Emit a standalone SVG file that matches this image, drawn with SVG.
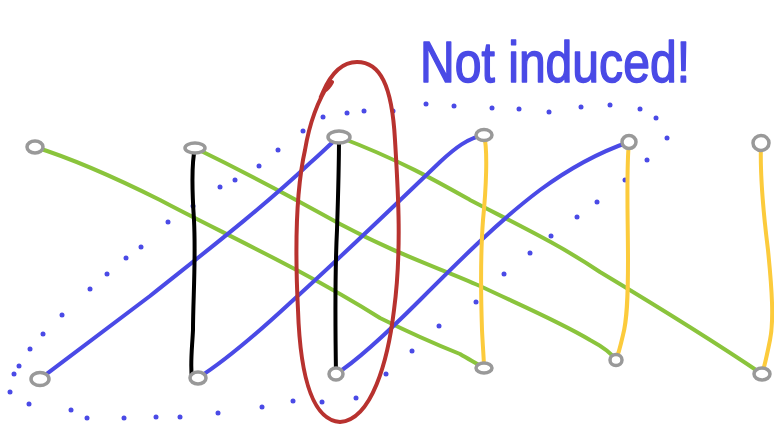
<svg xmlns="http://www.w3.org/2000/svg" width="774" height="425" viewBox="0 0 774 425">
<style>
.e{fill:none;stroke-width:4;stroke-linecap:round;stroke-linejoin:round}
.g{stroke:#8ac43c}
.b{stroke:#4a4ae6}
.k{stroke:#000}
.y{stroke:#fccb3c}
.n{fill:#fff;stroke:#999;stroke-width:3.5}
.d{fill:#4a4ae6}
.t{font-family:"Liberation Sans",Arial,sans-serif;font-size:58px;fill:#4a4ae6;stroke:#4a4ae6;stroke-width:1.5;stroke-linejoin:round}
</style>
<rect width="774" height="425" fill="#fff"/>
<g id="dots">
<circle class="d" cx="278" cy="150" r="2.5"/><circle class="d" cx="303" cy="131" r="2.5"/><circle class="d" cx="323" cy="117" r="2.5"/><circle class="d" cx="347" cy="113" r="2.5"/><circle class="d" cx="364" cy="111" r="2.5"/><circle class="d" cx="393" cy="111" r="2.5"/><circle class="d" cx="426" cy="104" r="2.5"/><circle class="d" cx="454" cy="106" r="2.5"/><circle class="d" cx="492" cy="108" r="2.5"/><circle class="d" cx="519" cy="109" r="2.5"/><circle class="d" cx="549" cy="112" r="2.5"/><circle class="d" cx="581" cy="107" r="2.5"/><circle class="d" cx="610" cy="105" r="2.5"/><circle class="d" cx="640" cy="109" r="2.5"/><circle class="d" cx="656" cy="118" r="2.5"/><circle class="d" cx="667" cy="138" r="2.5"/><circle class="d" cx="647" cy="160" r="2.5"/><circle class="d" cx="625" cy="180" r="2.5"/><circle class="d" cx="597" cy="202" r="2.5"/><circle class="d" cx="577" cy="217" r="2.5"/><circle class="d" cx="551" cy="236" r="2.5"/><circle class="d" cx="530" cy="253" r="2.5"/><circle class="d" cx="504" cy="274" r="2.5"/><circle class="d" cx="476" cy="302" r="2.5"/><circle class="d" cx="439" cy="326" r="2.5"/><circle class="d" cx="412" cy="351" r="2.5"/><circle class="d" cx="386" cy="374" r="2.5"/><circle class="d" cx="356" cy="398" r="2.5"/><circle class="d" cx="322" cy="402" r="2.5"/><circle class="d" cx="293" cy="401" r="2.5"/><circle class="d" cx="262" cy="407" r="2.5"/><circle class="d" cx="218" cy="413" r="2.5"/><circle class="d" cx="180" cy="417" r="2.5"/><circle class="d" cx="156" cy="417" r="2.5"/><circle class="d" cx="124" cy="418" r="2.5"/><circle class="d" cx="87" cy="418" r="2.5"/><circle class="d" cx="71" cy="410" r="2.5"/><circle class="d" cx="29" cy="404" r="2.5"/><circle class="d" cx="10" cy="392" r="2.5"/><circle class="d" cx="14" cy="374" r="2.5"/><circle class="d" cx="19" cy="366" r="2.5"/><circle class="d" cx="30" cy="349" r="2.5"/><circle class="d" cx="43" cy="334" r="2.5"/><circle class="d" cx="62" cy="315" r="2.5"/><circle class="d" cx="90" cy="289" r="2.5"/><circle class="d" cx="107" cy="274" r="2.5"/><circle class="d" cx="126" cy="258" r="2.5"/><circle class="d" cx="141" cy="247" r="2.5"/><circle class="d" cx="168" cy="222" r="2.5"/><circle class="d" cx="193" cy="206" r="2.5"/><circle class="d" cx="220" cy="187" r="2.5"/><circle class="d" cx="235" cy="180" r="2.5"/><circle class="d" cx="259" cy="166" r="2.5"/>
</g>
<g id="connectors">
<path class="e g" d="M35,147 C70,158 110,175 160,200 C220,232 300,268 380,318 C420,338 440,346 460,354 C470,360 478,364 484,368"/>
<path class="e g" d="M195,148 C230,165 270,185 340,224 C400,256 440,268 480,286 C520,305 560,322 590,340 C605,348 612,354 616,360"/>
<path class="e g" d="M339,137 C400,160 440,183 470,200 C520,226 560,245 600,272 C650,302 700,332 762,374"/>
<path class="e b" d="M40,379 C70,356 100,334 150,296 C200,256 260,210 310,163 C325,150 332,142 339,137"/>
<path class="e b" d="M198,378 C220,364 250,340 290,303 C340,258 390,210 440,162 C455,148 468,138 484,135"/>
<path class="e b" d="M336,374 C355,362 385,335 420,300 C460,260 500,220 540,190 C570,168 600,152 629,142"/>
<path class="e k" d="M195,148 C191,165 192,190 194,220 C196,260 193,300 193,330 C192,350 190,365 192,378"/>
<path class="e k" d="M339,137 C339,170 338,200 337,230 C335,270 335,310 336,374"/>
<path class="e y" d="M484,135 C488,150 486,190 483,220 C480,260 481,300 482,330 C483,350 484,360 484,368"/>
<path class="e y" d="M629,142 C626,170 628,220 628,260 C628,300 627,320 623,335 C620,348 618,355 616,360"/>
<path class="e y" d="M761,143 C760,170 763,210 768,250 C772,290 774,320 770,340 C767,355 765,365 762,374"/>
<path fill="none" stroke="#b8322f" stroke-width="4" stroke-linecap="round" d="M332,82 C330,86 326,90 323,92 C330,76 340,62 357,62 C380,62 392,85 395,140 C398,190 402,250 394,310 C388,360 372,420 340,422 C310,420 300,370 298,310 C295,250 296,190 305,150 C310,120 318,100 330,82"/>
</g>
<g id="n1"><ellipse class="n" cx="35" cy="147" rx="8" ry="6"/></g>
<g id="n2"><ellipse class="n" cx="195" cy="148" rx="10" ry="5"/></g>
<g id="n3"><ellipse class="n" cx="339" cy="137" rx="11" ry="6"/></g>
<g id="n4"><ellipse class="n" cx="484" cy="135" rx="8" ry="5.5"/></g>
<g id="n5"><ellipse class="n" cx="629" cy="142" rx="7" ry="6.5"/></g>
<g id="n6"><ellipse class="n" cx="761" cy="143" rx="8" ry="7.5"/></g>
<g id="n7"><ellipse class="n" cx="40" cy="379" rx="9" ry="6.5"/></g>
<g id="n8"><ellipse class="n" cx="198" cy="378" rx="8" ry="6"/></g>
<g id="n9"><ellipse class="n" cx="336" cy="374" rx="7" ry="6"/></g>
<g id="n10"><ellipse class="n" cx="484" cy="368" rx="8" ry="5"/></g>
<g id="n11"><ellipse class="n" cx="616" cy="360" rx="6" ry="5.5"/></g>
<g id="n12"><ellipse class="n" cx="762" cy="374" rx="8" ry="6"/></g>
<g id="label"><text class="t" x="420" y="82" textLength="270" lengthAdjust="spacingAndGlyphs">Not induced!</text></g>
</svg>
